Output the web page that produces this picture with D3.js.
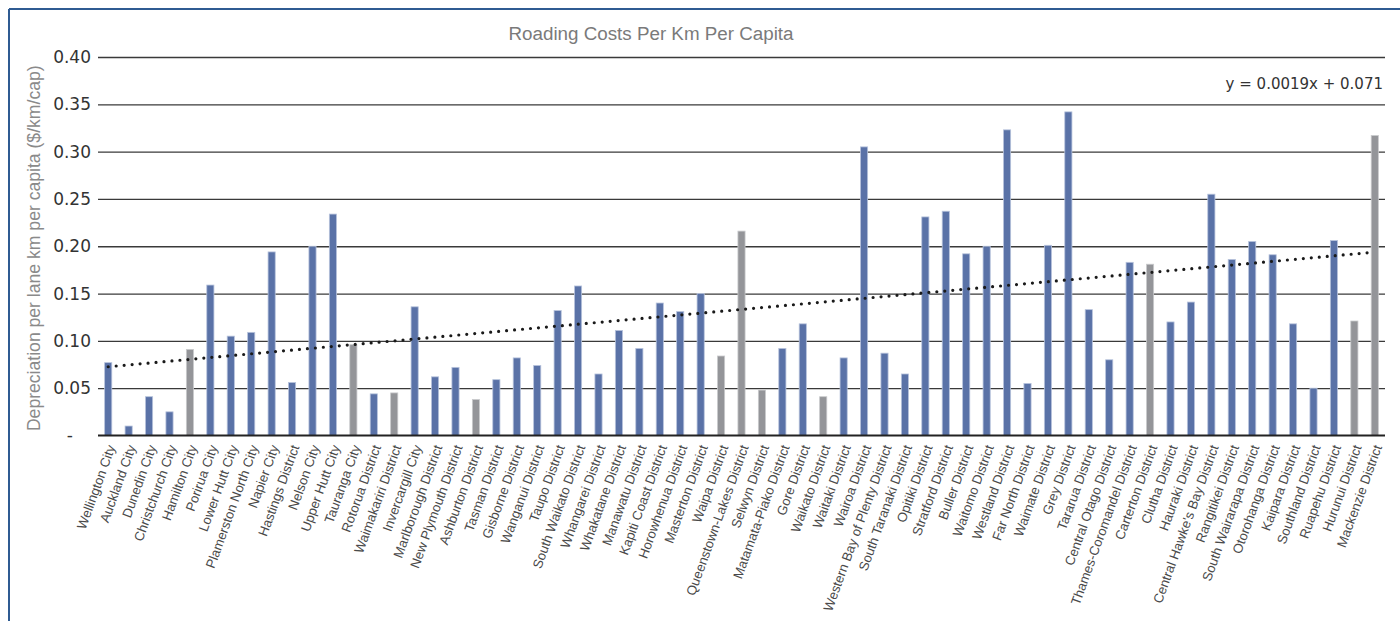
<!DOCTYPE html>
<html>
<head>
<meta charset="utf-8">
<script src="https://cdn.jsdelivr.net/npm/d3@7"></script>
<style>
  html, body { margin: 0; padding: 0; background: #fff; }
  svg { display: block; }
</style>
</head>
<body>
<svg id="chart" width="1400" height="621"></svg>
<script>
const categories = [
  "Wellington City","Auckland City","Dunedin City","Christchurch City","Hamilton City",
  "Porirua City","Lower Hutt City","Plamerston North City","Napier City","Hastings District",
  "Nelson City","Upper Hutt City","Tauranga City","Rotorua District","Waimakariri District",
  "Invercargill City","Marlborough District","New Plymouth District","Ashburton District","Tasman District",
  "Gisborne District","Wanganui District","Taupo District","South Waikato District","Whangarei District",
  "Whakatane District","Manawatu District","Kapiti Coast District","Horowhenua District","Masterton District",
  "Waipa District","Queenstown-Lakes District","Selwyn District","Matamata-Piako District","Gore District",
  "Waikato District","Waitaki District","Wairoa District","Western Bay of Plenty District","South Taranaki District",
  "Opitiki District","Stratford District","Buller District","Waitomo District","Westland District",
  "Far North District","Waimate District","Grey District","Tararua District","Central Otago District",
  "Thames-Coromandel District","Carterton District","Clutha District","Hauraki District","Central Hawke's Bay District",
  "Rangitikei District","South Wairarapa District","Otorohanga District","Kaipara District","Southland District",
  "Ruapehu District","Hurunui District","Mackenzie District"
];
const values = [
  0.077,0.010,0.041,0.025,0.091,
  0.159,0.105,0.109,0.194,0.056,
  0.200,0.234,0.096,0.044,0.045,
  0.136,0.062,0.072,0.038,0.059,
  0.082,0.074,0.132,0.158,0.065,
  0.111,0.092,0.140,0.131,0.150,
  0.084,0.216,0.048,0.092,0.118,
  0.041,0.082,0.305,0.087,0.065,
  0.231,0.237,0.192,0.200,0.323,
  0.055,0.201,0.342,0.133,0.080,
  0.183,0.181,0.120,0.141,0.255,
  0.186,0.205,0.191,0.118,0.050,
  0.206,0.121,0.317
];
// "grey" marks the highlighted (grey) councils, "blue" the rest
const groups = [
  "blue","blue","blue","blue","grey",
  "blue","blue","blue","blue","blue",
  "blue","blue","grey","blue","grey",
  "blue","blue","blue","grey","blue",
  "blue","blue","blue","blue","blue",
  "blue","blue","blue","blue","blue",
  "grey","grey","grey","blue","blue",
  "grey","blue","blue","blue","blue",
  "blue","blue","blue","blue","blue",
  "blue","blue","blue","blue","blue",
  "blue","grey","blue","blue","blue",
  "blue","blue","blue","blue","blue",
  "blue","grey","grey"
];
const yTicks = [0, 0.05, 0.10, 0.15, 0.20, 0.25, 0.30, 0.35, 0.40];
const yTickLabels = ["-", "0.05", "0.10", "0.15", "0.20", "0.25", "0.30", "0.35", "0.40"];
const trendLabel = "y = 0.0019x + 0.071";
const chartTitle = "Roading Costs Per Km Per Capita";
const yTitle = "Depreciation per lane km per capita ($/km/cap)";

const svg = d3.select("#chart");
const x0 = 98, x1 = 1385, yTop = 57, yBot = 435.5;

// frame
svg.append("line").attr("x1", 9).attr("x2", 1400).attr("y1", 9).attr("y2", 9)
  .attr("stroke", "#2f5b92").attr("stroke-width", 2);
svg.append("line").attr("x1", 9).attr("x2", 9).attr("y1", 9).attr("y2", 621)
  .attr("stroke", "#2f5b92").attr("stroke-width", 2);

const x = d3.scaleBand().domain(categories).range([x0, x1]).paddingInner(0.65).paddingOuter(0.325);
const y = d3.scaleLinear().domain([0, 0.40]).range([yBot, yTop]);

// gridlines
const gridG = svg.append("g").attr("transform", `translate(${x0},0)`)
  .call(d3.axisLeft(y).tickValues(yTicks.filter(d => d > 0)).tickSize(-(x1 - x0)).tickFormat(""));
gridG.select(".domain").remove();
gridG.selectAll(".tick line").attr("stroke", "#3a3a3a").attr("stroke-width", 1.3);

// y tick labels
const yAxisG = svg.append("g").attr("transform", `translate(${x0 - 7},0)`)
  .call(d3.axisLeft(y).tickValues(yTicks).tickSize(0).tickPadding(0)
    .tickFormat((d, i) => yTickLabels[i]));
yAxisG.select(".domain").remove();
yAxisG.selectAll(".tick text")
  .attr("font-family", "DejaVu Sans, sans-serif")
  .attr("font-size", 17)
  .attr("fill", "#333")
  .attr("dx", d => d === 0 ? -18 : 0);

// bars
svg.append("g").selectAll("rect").data(values).join("rect")
  .attr("x", (d, i) => x(categories[i]))
  .attr("width", x.bandwidth())
  .attr("y", d => y(d))
  .attr("height", d => y(0) - y(d))
  .attr("fill", (d, i) => groups[i] === "grey" ? "#949599" : "#5a72a7")
  .attr("stroke", (d, i) => groups[i] === "grey" ? "#c9cacc" : "#b7c3dc")
  .attr("stroke-width", 0.8);

// x axis baseline
svg.append("line").attr("x1", x0).attr("x2", x1).attr("y1", yBot).attr("y2", yBot)
  .attr("stroke", "#222").attr("stroke-width", 2);

// x labels
const xAxisG = svg.append("g").attr("transform", `translate(0,${yBot})`)
  .call(d3.axisBottom(x).tickSize(0).tickPadding(0));
xAxisG.select(".domain").remove();
xAxisG.selectAll(".tick text")
  .attr("font-family", "'Liberation Sans Narrow', 'Arial Narrow', 'Liberation Sans', sans-serif")
  .attr("font-size", 13.3)
  .attr("fill", "#4a4a4a")
  .attr("text-anchor", "end")
  .attr("dy", "0.35em")
  .attr("transform", "translate(3,10) rotate(-70)");

// trendline (least squares over category index 1..n)
const n = values.length;
const xs = d3.range(1, n + 1);
const mx = d3.mean(xs), my = d3.mean(values);
const slope = d3.sum(xs, (v, i) => (v - mx) * (values[i] - my)) / d3.sum(xs, v => (v - mx) * (v - mx));
const intercept = my - slope * mx;
const line = d3.line()
  .x(i => x(categories[i - 1]) + x.bandwidth() / 2)
  .y(i => y(intercept + slope * i));
svg.append("path").datum([1, n]).attr("d", line)
  .attr("fill", "none").attr("stroke", "#1a1a1a").attr("stroke-width", 3.2)
  .attr("stroke-linecap", "round").attr("stroke-dasharray", "0,8");

// equation label
svg.append("text").attr("x", 1383).attr("y", 89)
  .attr("text-anchor", "end")
  .attr("font-family", "DejaVu Sans, sans-serif")
  .attr("font-size", 15).attr("fill", "#333")
  .text(trendLabel);

// title
svg.append("text").attr("x", 651).attr("y", 40)
  .attr("text-anchor", "middle")
  .attr("font-family", "'Liberation Sans Narrow', 'Arial Narrow', 'Liberation Sans', sans-serif")
  .attr("font-size", 18.8).attr("fill", "#7a7a7a")
  .text(chartTitle);

// y title
svg.append("text")
  .attr("transform", `translate(40,${(yTop + yBot) / 2 + 2}) rotate(-90)`)
  .attr("text-anchor", "middle")
  .attr("font-family", "'Liberation Sans', sans-serif")
  .attr("font-size", 17.6).attr("fill", "#8a8a8a")
  .text(yTitle);
</script>
</body>
</html>
